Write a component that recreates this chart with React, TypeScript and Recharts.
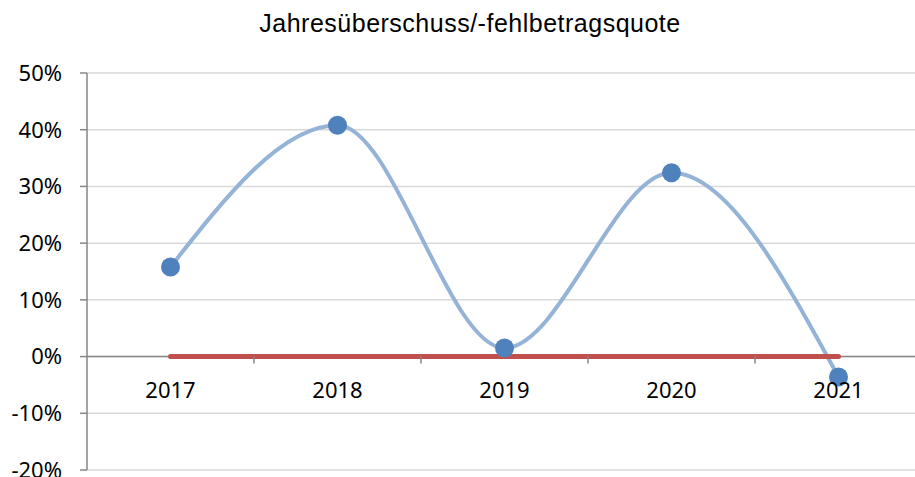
import React from "react";
import {
  CartesianGrid,
  Line,
  LineChart,
  ReferenceLine,
  XAxis,
  YAxis
} from "recharts";

const years = ["2017", "2018", "2019", "2020", "2021"];
const quote = [0.158, 0.408, 0.015, 0.324, -0.036];
const baseline = [0, 0, 0, 0, 0];
const yTicks = [-0.2, -0.1, 0, 0.1, 0.2, 0.3, 0.4, 0.5];

const data = years.map((year, i) => ({
  year,
  quote: quote[i],
  baseline: baseline[i]
}));

const WIDTH = 915;
const HEIGHT = 477;
const MARGIN = { top: 73, right: -7, bottom: 6, left: 0 };
const Y_AXIS_WIDTH = 87;
const X_AXIS_HEIGHT = 1;
const PLOT_HEIGHT = HEIGHT - MARGIN.top - MARGIN.bottom - X_AXIS_HEIGHT;
const PLOT_WIDTH = WIDTH - Y_AXIS_WIDTH - MARGIN.left - MARGIN.right;
const BAND = PLOT_WIDTH / years.length;
// the category axis sits on the 0% line, 20 of 70 points above the bottom
const ZERO_LIFT = (PLOT_HEIGHT * 0.2) / 0.7;

const axisGrey = "#868686";
const labelFont = "'Noto Sans', sans-serif";

function YearTick(props: any) {
  const { x, y, payload } = props;
  const y0 = y - ZERO_LIFT;
  return (
    <g>
      <line
        x1={x + BAND / 2}
        x2={x + BAND / 2}
        y1={y0}
        y2={y0 + 7}
        stroke={axisGrey}
        strokeWidth={1.5}
      />
      <text
        x={x}
        y={y0 + 41}
        textAnchor="middle"
        fill="#000"
        fontSize={22}
        fontFamily={labelFont}
      >
        {payload.value}
      </text>
    </g>
  );
}

export default function App() {
  return (
    <div
      style={{
        position: "absolute",
        left: 0,
        top: 0,
        width: WIDTH,
        height: HEIGHT,
        background: "#fff"
      }}
    >
      <div
        style={{
          position: "absolute",
          left: 0,
          width: 940,
          top: 9,
          textAlign: "center",
          fontFamily: "'Liberation Sans', Arial, sans-serif",
          fontSize: 25,
          letterSpacing: 0.5,
          color: "#000"
        }}
      >
        Jahresüberschuss/-fehlbetragsquote
      </div>
      <LineChart width={WIDTH} height={HEIGHT} data={data} margin={MARGIN}>
        <CartesianGrid vertical={false} stroke="#d9d9d9" strokeWidth={1.5} />
        <XAxis
          dataKey="year"
          height={X_AXIS_HEIGHT}
          axisLine={false}
          tickLine={false}
          tickSize={0}
          tickMargin={0}
          interval={0}
          padding={{ left: BAND / 2, right: BAND / 2 }}
          tick={(p: any) => <YearTick {...p} />}
        />
        <YAxis
          width={Y_AXIS_WIDTH}
          domain={[-0.2, 0.5]}
          ticks={yTicks}
          interval={0}
          tickFormatter={(v: number) => `${Math.round(v * 100)}%`}
          axisLine={{ stroke: axisGrey, strokeWidth: 1.5 }}
          tickLine={{ stroke: axisGrey, strokeWidth: 1.5 }}
          tickSize={7}
          tickMargin={18}
          tick={{ fill: "#000", fontSize: 22, fontFamily: labelFont }}
        />
        <ReferenceLine y={0} stroke={axisGrey} strokeWidth={1.5} />
        <Line
          dataKey="quote"
          type="monotone"
          stroke="#95B3D7"
          strokeWidth={4}
          dot={{ r: 9.5, fill: "#4F81BD", stroke: "none" }}
          activeDot={false}
          isAnimationActive={false}
        />
        <Line
          dataKey="baseline"
          type="linear"
          stroke="#C0504D"
          strokeWidth={5}
          strokeLinecap="round"
          dot={false}
          activeDot={false}
          isAnimationActive={false}
        />
      </LineChart>
    </div>
  );
}
